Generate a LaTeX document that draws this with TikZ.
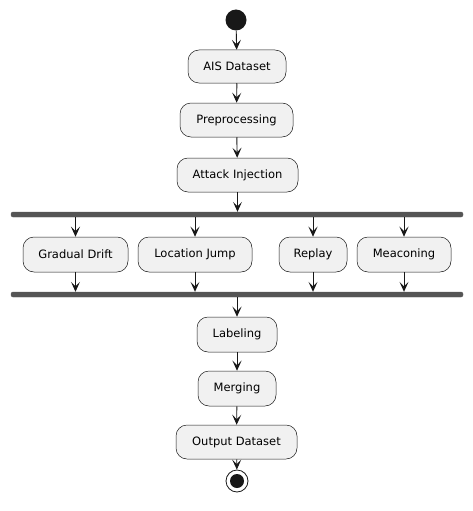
\documentclass[tikz,border=0pt]{standalone}
\usepackage{fontspec}
\setmainfont{DejaVu Sans}
\usetikzlibrary{arrows.meta,positioning}
\definecolor{boxfill}{HTML}{F1F1F1}
\definecolor{edge}{HTML}{181818}
\definecolor{barc}{HTML}{555555}
\begin{document}
\begin{tikzpicture}[x=1pt,y=-1pt,
  act/.style={draw=edge,line width=0.5pt,fill=boxfill,rounded corners=11pt,inner sep=0pt,font=\fontsize{11.5}{13}\selectfont,text=black},
  bar/.style={fill=barc,draw=barc,rounded corners=2pt,inner sep=0pt},
  flow/.style={draw=edge,line width=0.9pt,-{Stealth[length=10pt,width=9pt,inset=4.5pt]}}]
\useasboundingbox (0,0) rectangle (472,511);
\node[circle,fill=edge,minimum size=21pt,inner sep=0pt] (start) at (236,20) {};
\node[act,minimum width=98pt,minimum height=33pt] (ais) at (237,66.5) {AIS Dataset};
\node[act,minimum width=113pt,minimum height=34pt] (pre) at (236.5,120) {Preprocessing};
\node[act,minimum width=121pt,minimum height=34pt] (att) at (237.5,175) {Attack Injection};
\node[bar,minimum width=452pt,minimum height=5pt] (fork) at (237,214.5) {};
\node[act,minimum width=105pt,minimum height=35pt] (gd) at (75.5,254.5) {Gradual Drift};
\node[act,minimum width=114pt,minimum height=35pt] (lj) at (195,254.5) {Location Jump};
\node[act,minimum width=68pt,minimum height=35pt] (rp) at (313,254.5) {Replay};
\node[act,minimum width=94pt,minimum height=35pt] (mc) at (404,254.5) {Meaconing};
\node[bar,minimum width=452pt,minimum height=5pt] (join) at (237,294.5) {};
\node[act,minimum width=80pt,minimum height=35pt] (lab) at (237,334.5) {Labeling};
\node[act,minimum width=78pt,minimum height=35pt] (mer) at (237,388.5) {Merging};
\node[act,minimum width=121pt,minimum height=34pt] (out) at (236.5,442) {Output Dataset};
\node[circle,draw=edge,line width=0.8pt,fill=white,minimum size=22pt,inner sep=0pt] (end) at (237,481) {};
\node[circle,fill=edge,minimum size=14pt,inner sep=0pt] at (end.center) {};
\draw[flow] (start) -- (ais);
\draw[flow] (ais) -- (pre);
\draw[flow] (pre) -- (att);
\draw[flow] (att) -- (att.south |- fork.north);
\foreach \b in {gd,lj,rp,mc}{
  \draw[flow] (fork.south -| \b.north) -- (\b.north);
  \draw[flow] (\b.south) -- (join.north -| \b.south);
}
\draw[flow] (join.south -| lab.north) -- (lab.north);
\draw[flow] (lab) -- (mer);
\draw[flow] (mer) -- (out);
\draw[flow] (out) -- (end);
\end{tikzpicture}
\end{document}
